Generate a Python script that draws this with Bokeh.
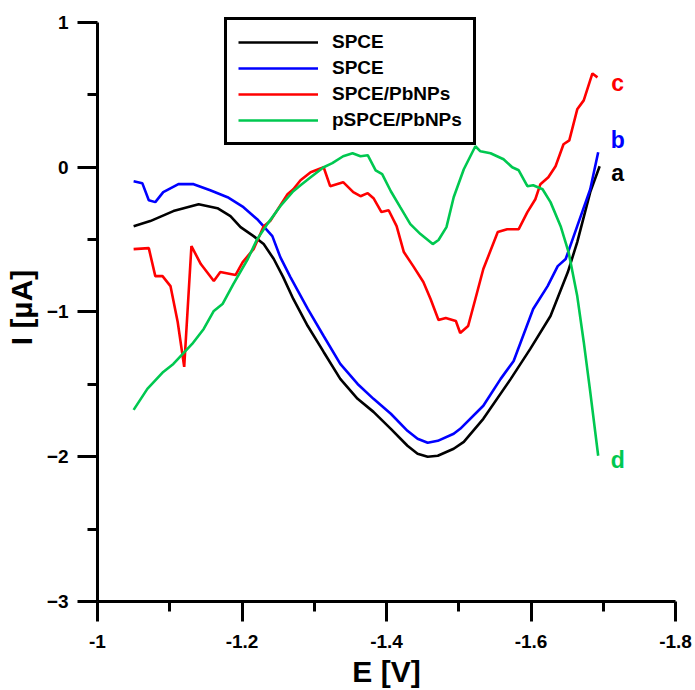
from bokeh.plotting import figure
from bokeh.models import (Range1d, FixedTicker, CustomJSTickFormatter, Legend,
                          LegendItem, Label)
from bokeh.embed import file_html
from bokeh.resources import INLINE

# ---------------- data ----------------
E_a = [-1.050, -1.073, -1.105, -1.140, -1.166, -1.184, -1.198, -1.216, -1.230, -1.244,
       -1.257, -1.271, -1.291, -1.313, -1.336, -1.360, -1.382, -1.406, -1.429, -1.443,
       -1.457, -1.471, -1.493, -1.507, -1.534, -1.572, -1.599, -1.627, -1.651, -1.664,
       -1.682, -1.695]
I_a = [-0.407, -0.372, -0.303, -0.255, -0.283, -0.338, -0.414, -0.476, -0.531, -0.634,
       -0.759, -0.910, -1.097, -1.276, -1.462, -1.600, -1.690, -1.807, -1.924, -1.979,
       -2.000, -1.993, -1.945, -1.897, -1.738, -1.462, -1.255, -1.028, -0.724, -0.517,
       -0.172, 0.007]

E_b = [-1.050, -1.062, -1.071, -1.080, -1.091, -1.112, -1.133, -1.156, -1.180, -1.202,
       -1.221, -1.242, -1.253, -1.267, -1.291, -1.313, -1.336, -1.360, -1.382, -1.406,
       -1.429, -1.443, -1.457, -1.471, -1.493, -1.502, -1.534, -1.558, -1.576, -1.603,
       -1.623, -1.637, -1.648, -1.664, -1.682, -1.693]
I_b = [-0.097, -0.110, -0.228, -0.241, -0.172, -0.117, -0.117, -0.159, -0.207, -0.276,
       -0.359, -0.476, -0.621, -0.759, -0.979, -1.166, -1.359, -1.497, -1.600, -1.703,
       -1.821, -1.876, -1.903, -1.890, -1.841, -1.807, -1.648, -1.462, -1.338, -0.979,
       -0.821, -0.683, -0.634, -0.407, -0.152, 0.103]

E_c = [-1.050, -1.071, -1.080, -1.090, -1.101, -1.111, -1.120, -1.130, -1.143, -1.161,
       -1.170, -1.191, -1.201, -1.216, -1.230, -1.239, -1.263, -1.271, -1.281, -1.295,
       -1.313, -1.322, -1.340, -1.354, -1.364, -1.374, -1.382, -1.393, -1.403, -1.414,
       -1.424, -1.437, -1.451, -1.461, -1.472, -1.482, -1.496, -1.502, -1.513, -1.523,
       -1.534, -1.554, -1.567, -1.583, -1.595, -1.606, -1.613, -1.624, -1.634, -1.645,
       -1.653, -1.664, -1.673, -1.685, -1.692]
I_c = [-0.566, -0.559, -0.752, -0.752, -0.821, -1.069, -1.379, -0.545, -0.669, -0.786,
       -0.724, -0.745, -0.655, -0.566, -0.407, -0.372, -0.186, -0.152, -0.090, -0.034,
       0.000, -0.131, -0.103, -0.172, -0.200, -0.179, -0.214, -0.310, -0.297, -0.407,
       -0.586, -0.683, -0.793, -0.910, -1.055, -1.041, -1.062, -1.145, -1.097, -0.910,
       -0.703, -0.448, -0.428, -0.428, -0.310, -0.221, -0.117, -0.069, 0.007, 0.159,
       0.186, 0.400, 0.462, 0.648, 0.621]

E_d = [-1.050, -1.069, -1.091, -1.105, -1.131, -1.147, -1.161, -1.173, -1.188, -1.208,
       -1.221, -1.235, -1.253, -1.271, -1.281, -1.295, -1.313, -1.325, -1.340, -1.353,
       -1.364, -1.374, -1.385, -1.394, -1.406, -1.419, -1.433, -1.447, -1.464, -1.472,
       -1.483, -1.493, -1.507, -1.523, -1.530, -1.544, -1.562, -1.574, -1.583, -1.595,
       -1.603, -1.616, -1.627, -1.641, -1.652, -1.664, -1.673, -1.682, -1.693]
I_d = [-1.676, -1.531, -1.414, -1.359, -1.221, -1.117, -0.993, -0.945, -0.807, -0.634,
       -0.497, -0.393, -0.269, -0.166, -0.124, -0.069, 0.000, 0.028, 0.076, 0.097,
       0.076, 0.083, -0.021, -0.048, -0.166, -0.276, -0.393, -0.462, -0.531, -0.503,
       -0.414, -0.207, -0.014, 0.145, 0.110, 0.097, 0.055, 0.000, -0.021, -0.131,
       -0.124, -0.152, -0.241, -0.407, -0.586, -0.890, -1.207, -1.552, -1.993]

legend_labels = ["SPCE", "SPCE", "SPCE/PbNPs", "pSPCE/PbNPs"]
curve_tags = ["a", "b", "c", "d"]
tag_E = [-1.720, -1.720, -1.720, -1.720]
tag_I = [-0.04, 0.19, 0.58, -2.02]

x_ticks = [-1.0, -1.2, -1.4, -1.6, -1.8]
x_minor = [-1.1, -1.3, -1.5, -1.7]
y_ticks = [-3, -2, -1, 0, 1]
y_minor = [-2.5, -1.5, -0.5, 0.5]

colors = ["#000000", "#0000ff", "#ff0000", "#00c850"]
FONT = "Liberation Sans"

# frame spans 13..602 px; y axis line is bounded to [-3, 1]
Y_TOP = -3 + 589 / 145

# ---------------- figure ----------------
p = figure(width=695, height=690, output_backend="svg", toolbar_location=None,
           x_range=Range1d(-1.0, -1.8), y_range=Range1d(-3, Y_TOP),
           min_border_left=97, min_border_right=20, min_border_top=13,
           min_border_bottom=88, x_axis_label="E [V]", y_axis_label="I [µA]")
p.grid.visible = False
p.outline_line_color = None
p.background_fill_color = "white"
p.border_fill_color = "white"

p.xaxis.ticker = FixedTicker(ticks=x_ticks, minor_ticks=x_minor)
p.yaxis.ticker = FixedTicker(ticks=y_ticks, minor_ticks=y_minor)
p.yaxis.bounds = (y_ticks[0], y_ticks[-1])
p.xaxis.formatter = CustomJSTickFormatter(code="return String(Math.round(tick*10)/10)")

for ax in (p.xaxis[0], p.yaxis[0]):
    ax.axis_line_width = 3
    ax.axis_line_color = "black"
    ax.major_tick_line_width = 3
    ax.minor_tick_line_width = 3
    ax.major_tick_out = 20
    ax.major_tick_in = 0
    ax.minor_tick_out = 10
    ax.minor_tick_in = 0
    ax.major_label_text_font = FONT
    ax.major_label_text_font_style = "bold"
    ax.major_label_text_font_size = "19px"
    ax.major_label_text_color = "black"
    ax.axis_label_text_font = FONT
    ax.axis_label_text_font_style = "bold"
    ax.axis_label_text_font_size = "30px"
    ax.axis_label_text_color = "black"

p.xaxis[0].major_label_standoff = 13
p.xaxis[0].axis_label_standoff = 4
p.yaxis[0].major_label_standoff = 9
p.yaxis[0].axis_label_standoff = 6

xs = [E_a, E_b, E_c, E_d]
ys = [I_a, I_b, I_c, I_d]
renderers = []
for x, y, c in zip(xs, ys, colors):
    renderers.append(p.line(x, y, line_color=c, line_width=2.6))

items = [LegendItem(label=lab, renderers=[r]) for lab, r in zip(legend_labels, renderers)]
legend = Legend(items=items, location=(127, 456), orientation="vertical",
                border_line_color="black", border_line_width=3, border_line_alpha=1.0,
                background_fill_color="white", background_fill_alpha=1.0,
                label_text_font=FONT, label_text_font_style="bold",
                label_text_font_size="19px", label_text_color="black",
                glyph_width=80, glyph_height=22, label_height=22,
                label_standoff=14, spacing=4, padding=11, margin=0)
p.add_layout(legend, "center")

for t, ex, iy, c in zip(curve_tags, tag_E, tag_I, colors):
    p.add_layout(Label(x=ex, y=iy, text=t, text_color=c, text_font=FONT,
                       text_font_style="bold", text_font_size="23px",
                       text_align="center", text_baseline="middle"))

open("out.html", "w").write(file_html(p, INLINE))
